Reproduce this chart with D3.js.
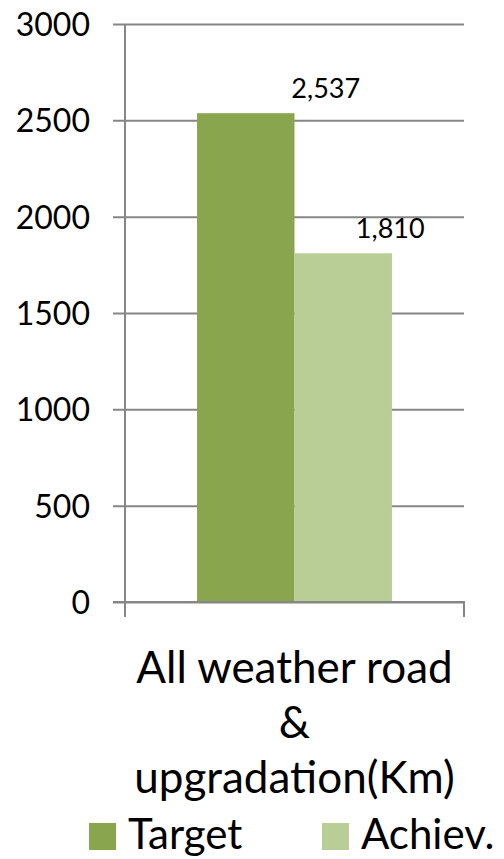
<!DOCTYPE html>
<html>
<head>
<meta charset="utf-8">
<script src="https://cdn.jsdelivr.net/npm/d3@7"></script>
<style>
  html, body { margin: 0; padding: 0; background: #fff; }
  svg { display: block; font-family: Lato, "Open Sans", sans-serif; }
</style>
</head>
<body>
<svg id="chart" width="504" height="859"></svg>
<script>
// Chart data
const categories = ["All weather road & upgradation(Km)"];
const categoryLines = ["All weather road", "&", "upgradation(Km)"];
const seriesNames = ["Target", "Achiev."];
const seriesValues = [2537, 1810];
const yTicks = [0, 500, 1000, 1500, 2000, 2500, 3000];
const colors = ["#89a54e", "#b9cd96"];

const svg = d3.select("#chart");
const axisColor = "#868686";

// Plot frame
const plot = { left: 125, right: 464, top: 24, bottom: 602 };

const y = d3.scaleLinear().domain([0, 3000]).range([plot.bottom, plot.top]);
const x0 = d3.scaleBand().domain(categories).range([plot.left, plot.right]).paddingOuter(0.3695).paddingInner(0);
const x1 = d3.scaleBand().domain(seriesNames).range([0, x0.bandwidth()]).padding(0);

// Horizontal gridlines with left tick stubs
const yAxis = d3.axisLeft(y).tickValues(yTicks).tickSize(-(plot.right - plot.left)).tickFormat(d => d);
const gy = svg.append("g").attr("transform", `translate(${plot.left},0)`).call(yAxis);
gy.select(".domain").remove();
gy.selectAll(".tick line").attr("x1", -12).attr("stroke", axisColor).attr("stroke-width", 2);
gy.selectAll(".tick text")
  .attr("x", -35).attr("dy", "0.36em")
  .attr("fill", "#000").attr("font-size", 32)
  .attr("font-family", "Lato, sans-serif");

// Vertical axis line extending below the baseline
svg.append("line")
  .attr("x1", plot.left).attr("x2", plot.left)
  .attr("y1", plot.top).attr("y2", plot.bottom + 15)
  .attr("stroke", axisColor).attr("stroke-width", 2);
// Right category boundary tick
svg.append("line")
  .attr("x1", plot.right).attr("x2", plot.right)
  .attr("y1", plot.bottom).attr("y2", plot.bottom + 15)
  .attr("stroke", axisColor).attr("stroke-width", 2);

// Bars
const group = svg.append("g").attr("transform", `translate(${x0(categories[0])},0)`);
group.selectAll("rect")
  .data(seriesValues)
  .join("rect")
  .attr("x", (d, i) => x1(seriesNames[i]))
  .attr("width", x1.bandwidth())
  .attr("y", d => y(d))
  .attr("height", d => y(0) - y(d))
  .attr("fill", (d, i) => colors[i]);

// Redraw baseline above bars
svg.append("line")
  .attr("x1", plot.left - 12).attr("x2", plot.right + 1)
  .attr("y1", y(0)).attr("y2", y(0))
  .attr("stroke", axisColor).attr("stroke-width", 2);

// Value labels (positioned up and to the right of each bar)
const labelShift = [80, 47];
const fmt = d3.format(",");
group.selectAll("text.value")
  .data(seriesValues)
  .join("text")
  .attr("class", "value")
  .attr("x", (d, i) => x1(seriesNames[i]) + x1.bandwidth() / 2 + labelShift[i])
  .attr("y", d => y(d) - 15)
  .attr("text-anchor", "middle")
  .attr("font-size", 27)
  .attr("fill", "#000")
  .text(d => fmt(d));

// Category label
const cx = x0(categories[0]) + x0.bandwidth() / 2;
svg.append("text")
  .attr("text-anchor", "middle")
  .attr("font-size", 44)
  .attr("fill", "#000")
  .selectAll("tspan")
  .data(categoryLines)
  .join("tspan")
  .attr("x", cx)
  .attr("y", (d, i) => 683 + i * 55)
  .text(d => d);

// Legend
const legendX = [89, 322];
const legend = svg.append("g");
seriesNames.forEach((name, i) => {
  legend.append("rect")
    .attr("x", legendX[i]).attr("y", 823)
    .attr("width", 27).attr("height", 27)
    .attr("fill", colors[i]);
  legend.append("text")
    .attr("x", legendX[i] + 39).attr("y", 849)
    .attr("font-size", 42)
    .attr("fill", "#000")
    .text(name);
});
</script>
</body>
</html>
